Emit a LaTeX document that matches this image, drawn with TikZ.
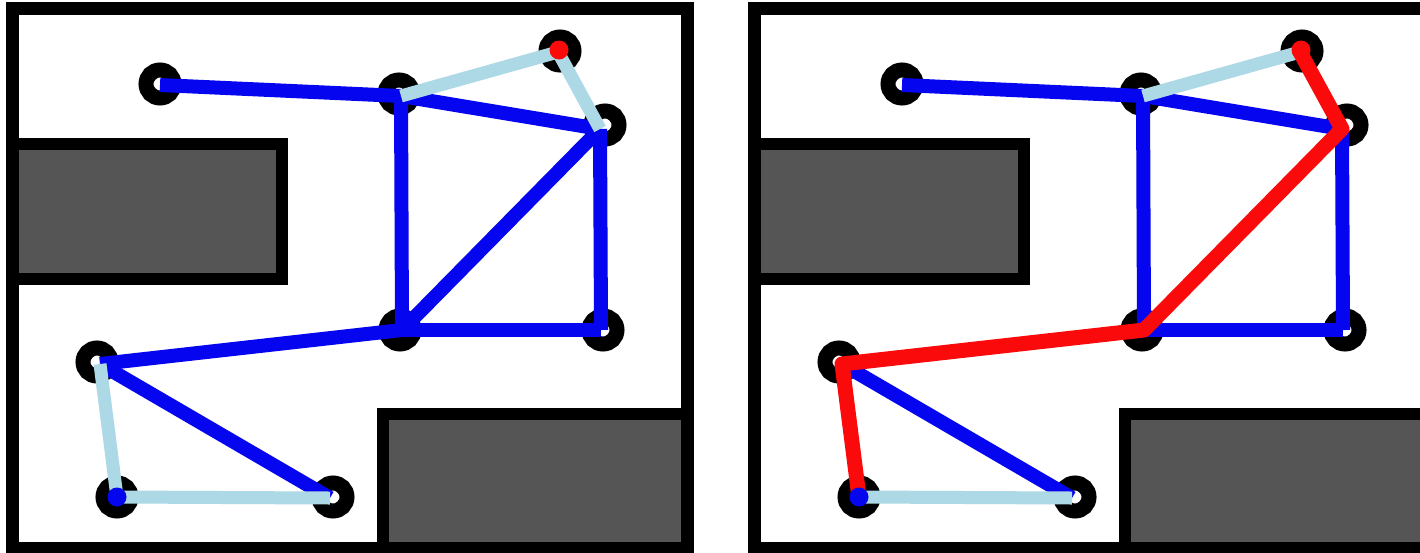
\documentclass[tikz,border=0pt]{standalone}
\usetikzlibrary{calc}
\definecolor{obst}{RGB}{85,85,85}
\definecolor{edgeblue}{RGB}{5,5,240}
\definecolor{pathred}{RGB}{250,10,10}
\definecolor{lightedge}{RGB}{173,216,230}
\tikzset{
  wall/.style={draw=black,line width=13pt,fill=white},
  obstacle/.style={draw=black,line width=12pt,fill=obst},
  ring/.style={circle,draw=black,line width=15pt,minimum size=28pt,inner sep=0pt,fill=white},
  blueedge/.style={draw=edgeblue,line width=14pt,line cap=butt},
  lightedgestyle/.style={draw=lightedge,line width=13pt,line cap=butt},
  rededge/.style={draw=pathred,line width=15pt,line cap=round,line join=round},
  startdot/.style={circle,fill=edgeblue,minimum size=19pt,inner sep=0pt},
  goaldot/.style={circle,fill=pathred,minimum size=19pt,inner sep=0pt}
}
\newcommand\mypanel[2]{%
  \begin{scope}[xshift=#2pt]
    \path[wall] (12,8) rectangle (687,548);
    \path[obstacle] (12,144) rectangle (281.5,278.5);
    \path[obstacle] (383,413.5) rectangle (687,548);
    \draw[black,line width=13pt] (12,8) rectangle (687,548);
    \node[ring] (#1RA) at (160,84) {};
    \node[ring] (#1RB) at (399,94) {};
    \node[ring] (#1RC) at (560,51) {};
    \node[ring] (#1RD) at (605,125) {};
    \node[ring] (#1RE) at (400,330) {};
    \node[ring] (#1RF) at (603,330) {};
    \node[ring] (#1RG) at (97,362) {};
    \node[ring] (#1RH) at (117,497) {};
    \node[ring] (#1RI) at (333,497) {};
    \coordinate (#1a) at (160,85);
    \coordinate (#1b) at (401,96);
    \coordinate (#1c) at (558,52);
    \coordinate (#1d) at (600,129);
    \coordinate (#1e) at (402,330);
    \coordinate (#1f) at (601,330);
    \coordinate (#1g) at (100,364);
    \coordinate (#1h) at (117,497);
    \coordinate (#1i) at (330,498);
  \end{scope}}
\begin{document}
\begin{tikzpicture}[x=1pt,y=-1pt]
\useasboundingbox (0,0) rectangle (1420,552);
\clip (0,0) rectangle (1420,552);
\fill[white] (0,0) rectangle (1420,552);
% left panel
\mypanel{L}{0}
\draw[blueedge] (La) -- (Lb);
\draw[blueedge] (Lb) -- (Ld);
\draw[blueedge] (Lb) -- (Le);
\draw[blueedge] (Ld) -- (Le);
\draw[blueedge] (Ld) -- (Lf);
\draw[blueedge] (Le) -- (Lf);
\draw[blueedge] (Le) -- (Lg);
\draw[blueedge] (Lg) -- (Li);
\draw[lightedgestyle] (Lb) -- (Lc);
\draw[lightedgestyle] (Lc) -- (Ld);
\draw[lightedgestyle] (Lg) -- (Lh);
\draw[lightedgestyle] (Lh) -- (Li);
\node[goaldot] (Lgoal) at (559,50) {};
\node[startdot] (Lstart) at (117,497) {};
% right panel
\mypanel{R}{742}
\draw[blueedge] (Ra) -- (Rb);
\draw[blueedge] (Rb) -- (Rd);
\draw[blueedge] (Rb) -- (Re);
\draw[blueedge] (Rd) -- (Rf);
\draw[blueedge] (Re) -- (Rf);
\draw[blueedge] (Rg) -- (Ri);
\draw[lightedgestyle] (Rb) -- (Rc);
\draw[lightedgestyle] (Rh) -- (Ri);
\draw[rededge] (Rc) -- (Rd) -- (Re) -- (Rg) -- (Rh);
\node[goaldot] (Rgoal) at (1301,50) {};
\node[startdot] (Rstart) at (859,497) {};
\end{tikzpicture}
\end{document}
